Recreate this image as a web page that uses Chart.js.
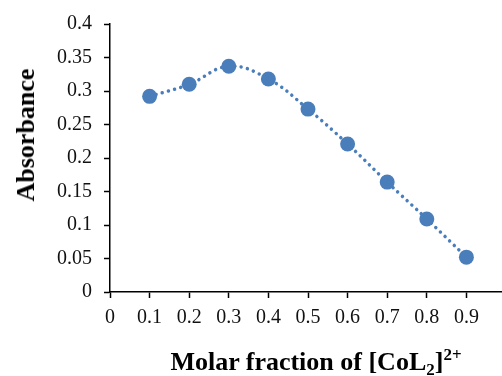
<!DOCTYPE html>
<html>
<head>
<meta charset="utf-8">
<script src="https://cdn.jsdelivr.net/npm/chart.js@4/dist/chart.umd.min.js"></script>
<style>
  html, body { margin: 0; padding: 0; background: #fff; }
  #wrap { position: relative; width: 502px; height: 376px; overflow: hidden; }
  #chart { position: absolute; left: 0; top: 0; }
  .ttl { position: absolute; font-family: "Liberation Serif", "Times New Roman", serif;
         font-weight: bold; font-size: 26px; color: #000; white-space: nowrap; line-height: 1; }
  #ytitle { left: 26px; top: 135px; transform: translate(-50%, -50%) rotate(-90deg); }
  #xtitle { left: 316px; top: 349px; transform: translateX(-50%); }
  #xtitle sub { font-size: 17px; vertical-align: -5px; line-height: 0; }
  #xtitle sup { font-size: 17px; vertical-align: 10px; line-height: 0; }
</style>
</head>
<body>
<div id="wrap">
  <canvas id="chart" width="520" height="376"></canvas>
  <div class="ttl" id="ytitle">Absorbance</div>
  <div class="ttl" id="xtitle">Molar fraction of [CoL<sub>2</sub>]<sup>2+</sup></div>
</div>
<script>
/* ── Data ── */
const molarFraction = [0.1, 0.2, 0.3, 0.4, 0.5, 0.6, 0.7, 0.8, 0.9];
const absorbance    = [0.292, 0.310, 0.337, 0.318, 0.273, 0.221, 0.164, 0.109, 0.052];
const xTicks = [0, 0.1, 0.2, 0.3, 0.4, 0.5, 0.6, 0.7, 0.8, 0.9, 1];
const yTicks = [0, 0.05, 0.1, 0.15, 0.2, 0.25, 0.3, 0.35, 0.4];

const BLUE = '#4a7ebb';
const TICK_FONT = { family: '"Liberation Serif", "Times New Roman", serif', size: 20 };

const axisBase = {
  type: 'linear',
  grid: { drawOnChartArea: false, drawTicks: true, tickLength: 6, tickColor: '#000', tickWidth: 1.5 },
  border: { display: true, color: '#000', width: 1.5 },
  ticks: { color: '#111', font: TICK_FONT, callback: v => +v.toFixed(2) }
};

new Chart(document.getElementById('chart'), {
  type: 'scatter',
  data: {
    datasets: [{
      data: molarFraction.map((x, i) => ({ x, y: absorbance[i] })),
      showLine: true,
      borderColor: BLUE, borderWidth: 3.5,
      borderDash: [0.01, 6.5], borderCapStyle: 'round',
      tension: 0.4,
      pointRadius: 7.5, pointHoverRadius: 7.5,
      pointBackgroundColor: BLUE, pointBorderColor: BLUE, pointBorderWidth: 0
    }]
  },
  options: {
    responsive: false, animation: false, devicePixelRatio: 1,
    layout: { padding: { top: 22, right: 14, left: 0, bottom: 0 } },
    plugins: { legend: { display: false }, tooltip: { enabled: false } },
    scales: {
      x: { ...axisBase, min: 0, max: 1,
           afterBuildTicks: s => { s.ticks = xTicks.map(value => ({ value })); },
           afterFit: s => { s.height = 84; },
           ticks: { ...axisBase.ticks, padding: 8, maxRotation: 0, autoSkip: false } },
      y: { ...axisBase, min: 0, max: 0.4,
           afterBuildTicks: s => { s.ticks = yTicks.map(value => ({ value })); },
           afterFit: s => { s.width = 110; },
           ticks: { ...axisBase.ticks, padding: 12 } }
    }
  }
});
</script>
</body>
</html>
